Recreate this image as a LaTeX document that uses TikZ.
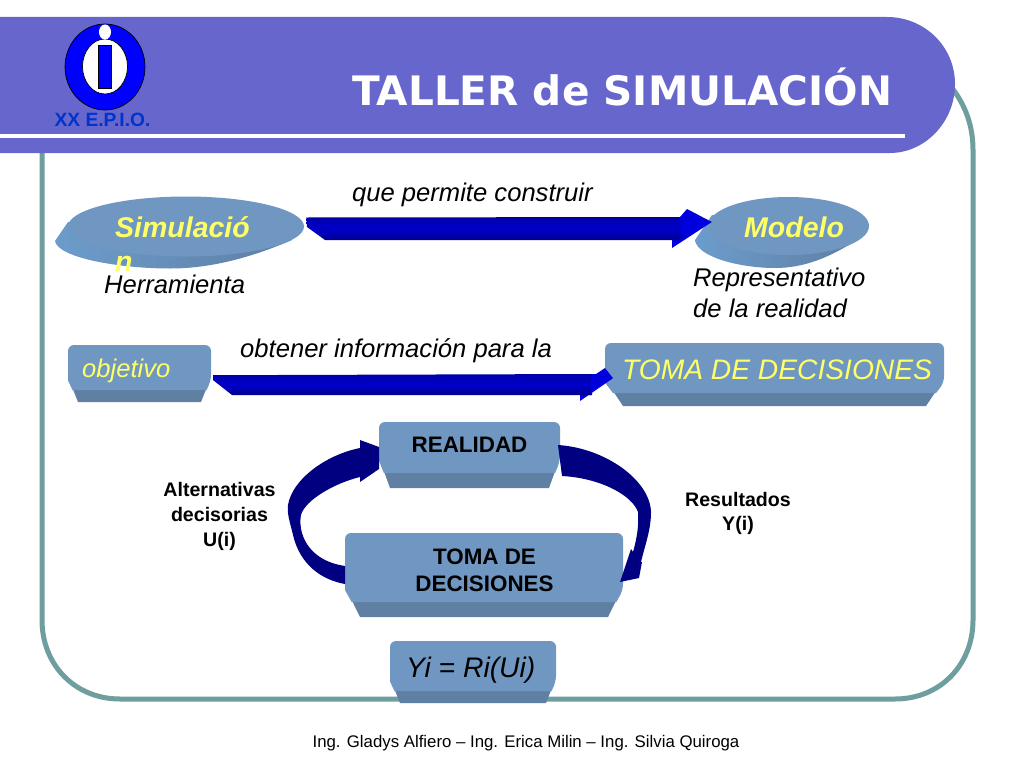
\documentclass[tikz,border=0pt]{standalone}
\usepackage{fontspec}
\setmainfont{Liberation Sans}
\newfontfamily\titlefont{DejaVu Sans}
\usetikzlibrary{calc,shapes.geometric}
\definecolor{band}{HTML}{6666CC}
\definecolor{frame}{HTML}{6E9E9E}
\definecolor{face}{HTML}{6F97C2}
\definecolor{side}{HTML}{5F7FA3}
\definecolor{soft}{HTML}{6C9CCC}
\definecolor{ink}{HTML}{FFFF66}
\definecolor{navy}{HTML}{000080}
\definecolor{arrowlo}{HTML}{000090}
\definecolor{arrowmid}{HTML}{0000CC}
\definecolor{arrowhi}{HTML}{0000A8}
\definecolor{arrowhead}{HTML}{0000DD}
\definecolor{logoblue}{HTML}{0000FF}
\definecolor{logotxt}{HTML}{0033CC}
\newcommand{\fs}[1]{\fontsize{#1}{\dimexpr#1pt*6/5\relax}\selectfont}
\tikzset{
  x=1pt,y=-1pt,
  anchorbox/.style={draw=none,inner sep=0pt,anchor=north west},
  blockarrow/.style={top color=arrowhi,bottom color=arrowlo,middle color=arrowmid,draw=none},
  headfill/.style={fill=arrowhead,draw=none},
  curvearrow/.style={fill=navy,draw=none},
  faceell/.style={ellipse,fill=face,draw=none,inner sep=0pt},
  baseell/.style={left color=soft,right color=side,draw=none},
  italic/.style={font=\fs{25.6}\itshape,text=black,inner sep=0pt,anchor=base west},
  boldblack/.style={font=\fs{19.6}\bfseries,text=black,inner sep=0pt,align=center},
  boldbox/.style={font=\fs{22.4}\bfseries,text=black,inner sep=0pt,align=center},
  yellowtitle/.style={font=\fs{28.5}\bfseries\itshape,text=ink,inner sep=0pt,anchor=base west},
}
% name, x1,y1,x2,y2,yfront,inset
\newcommand{\bevelbox}[7]{%
  \pgfmathsetmacro{\ys}{#6-0.8*(#5-#6)}%
  \pgfmathsetmacro{\dd}{0.444*#7}%
  \fill[side] (#2+\dd,#6-2) -- (#2+#7,#5) -- (#4-#7,#5) -- (#4-\dd,#6-2) -- cycle;
  \fill[face,rounded corners=6pt] (#2,\ys) -- (#2,#3) -- (#4,#3) -- (#4,\ys) [sharp corners] -- (#4-\dd,#6) -- (#2+\dd,#6) -- cycle;
  \node[anchorbox,minimum width=#4pt-#2pt,minimum height=#6pt-#3pt] (#1) at (#2,#3) {};
}
\begin{document}
\begin{tikzpicture}
\useasboundingbox (0,0) rectangle (1024,768);
\fill[white] (0,0) rectangle (1024,768);
% frame
\draw[frame,line width=5pt] (42,150) -- (42,620) .. controls (42,665) and (75,699) .. (120,699) -- (895,699)
  .. controls (940,699) and (973,665) .. (973,620) -- (973,150) .. controls (973,125) and (965,105) .. (952,88);
% band
\fill[band] (0,17) -- (887,17) .. controls (925,17) and (955,47) .. (955,84) .. controls (955,122) and (925,153) .. (890,153) -- (0,153) -- cycle;
\draw[white,line width=4pt] (0,136) -- (905,136);
% logo
\draw[black,fill=logoblue,line width=.7pt] (105,67) ellipse[x radius=40,y radius=43];
\draw[black,fill=white,line width=.7pt] (105,66.5) ellipse[x radius=22.5,y radius=27.5];
\draw[black,fill=logoblue,line width=.7pt] (98.5,45.5) rectangle (111.5,88.5);
\fill[white] (105,32) ellipse[x radius=6,y radius=7.5];
\node[font=\fs{19.2}\bfseries,text=logotxt,inner sep=0pt] (logotext) at (102.5,120) {XX E.P.I.O.};
\node[font=\titlefont\fs{40.6}\bfseries,text=white,inner sep=0pt,anchor=base west] (title) at (352,105) {TALLER de SIMULACIÓN};
% ellipses
\shade[baseell] (68,222) -- (55,241) .. controls (58,258) and (120,268.5) .. (170,268.5) .. controls (210,268.5) and (250,258) .. (292,240) -- cycle;
\node[faceell,minimum width=236pt,minimum height=60pt] (sim) at (186,226.5) {};
\shade[baseell] (712,215) -- (695,240) .. controls (697,257) and (740,268) .. (775,268) .. controls (805,268) and (830,257) .. (857,240) -- cycle;
\node[faceell,minimum width=161pt,minimum height=58pt] (mod) at (788.5,226) {};
\node[yellowtitle] (simt) at (115,237) {Simulació};
\node[yellowtitle] (simn) at (115,271) {n};
\node[yellowtitle] (modt) at (744,237) {Modelo};
% labels
\node[italic] (l1) at (352,201) {que permite construir};
\node[italic] (l2) at (104,293) {Herramienta};
\node[italic] (l3) at (693,286) {Representativo};
\node[italic] (l4) at (693,317) {de la realidad};
\node[italic] (l5) at (240,357) {obtener información para la};
% boxes
\bevelbox{obj}{68}{345}{211}{402}{390}{10}
\bevelbox{tomaA}{605}{343}{944}{406}{393}{18}
\bevelbox{real}{379}{422}{560}{488}{473}{11}
\bevelbox{tomaB}{345}{533}{623}{617}{602}{15}
\bevelbox{yi}{390}{641}{556}{703}{691}{10}
\node[font=\fs{25.6}\itshape,text=ink,inner sep=0pt,anchor=base west] (objt) at (82,377) {objetivo};
\node[font=\fs{28.2}\itshape,text=ink,inner sep=0pt,anchor=base west] (tomat) at (622,379) {TOMA DE DECISIONES};
\node[boldbox] (realt) at (469.5,445) {REALIDAD};
\node[boldbox] (tomabt) at (484.5,570.5) {TOMA DE\\DECISIONES};
\node[font=\fs{28.3}\itshape,text=black,inner sep=0pt,anchor=base west] (yit) at (406,677) {Yi = Ri(Ui)};
\node[boldblack] (alt) at (219.5,516) {Alternativas\\[1.5pt]decisorias\\[1.5pt]U(i)};
\node[boldblack] (res) at (738,513.5) {Resultados\\[1pt]Y(i)};
% straight block arrows
\coordinate (a1s) at ($(sim.east)+(2,-9)$);
\coordinate (a1e) at ($(mod.west)+(4,-4)$);
\shade[blockarrow] (a1s) -- (682,217) -- (682,240) -- (325,240) -- (307,227) -- cycle;
\fill[headfill] (680,217) -- (687,209) -- (a1e) -- (672,248) -- (672,240) -- (682,240) -- cycle;
\coordinate (a2s) at ($(obj.east)+(2,7.5)$);
\coordinate (a2e) at ($(tomaA.west)+(8,10)$);
\shade[blockarrow] (a2s) -- (592,374) -- (592,395) -- (232,395) -- (213,380) -- cycle;
\fill[headfill] (591,374) -- (596,374) -- (605,368) -- (a2e) -- (580,401) -- (580,395) -- (591,395) -- cycle;
% curved arrows
\fill[curvearrow] (345,584) .. controls (322,580) and (300,565) .. (293,535) .. controls (290,522) and (287,515) .. (288,505)
 .. controls (292,480) and (325,455) .. (360,448) -- (360,440) -- (379,447) -- (379,469) -- (360,482) -- (360,477)
 .. controls (335,483) and (305,500) .. (301,515) .. controls (298,530) and (305,560) .. (345,566) -- cycle;
\fill[curvearrow] (558,445) .. controls (605,448) and (650,480) .. (651,512) .. controls (651,530) and (645,545) .. (641,562)
 -- (642,562) -- (639,578) -- (620,582) -- (631,549) -- (633,552) .. controls (637,538) and (639,525) .. (638,512)
 .. controls (632,495) and (600,478) .. (562,476) -- cycle;
\node[font=\fs{16.8},text=black,inner sep=0pt,anchor=base] (foot) at (526,747) {Ing. Gladys Alfiero – Ing. Erica Milin – Ing. Silvia Quiroga};
\end{tikzpicture}
\end{document}
